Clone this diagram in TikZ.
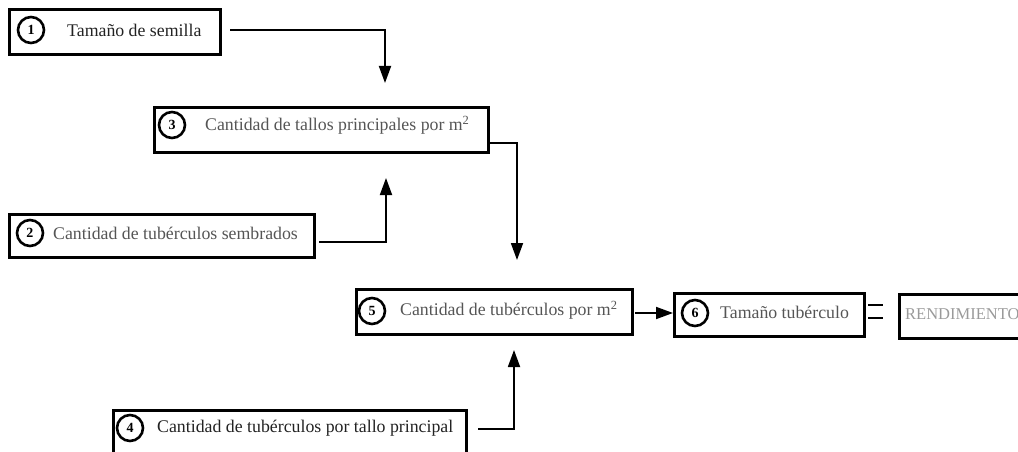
\documentclass[tikz,border=0pt]{standalone}
\usepackage{fontspec}
\setmainfont{Liberation Serif}
\usetikzlibrary{arrows.meta}
\definecolor{txtdark}{HTML}{222222}
\definecolor{txtgray}{HTML}{555555}
\definecolor{txtlight}{HTML}{9A9A9A}
\begin{document}
\begin{tikzpicture}[x=1pt,y=-1pt,
  box/.style={draw, line width=2.8pt, anchor=north west, inner sep=0pt},
  badge/.style={circle, draw, line width=2.6pt, minimum size=26pt, inner sep=0pt,
                font=\fontsize{14}{14}\selectfont\bfseries},
  lbl/.style={anchor=west, inner sep=0pt, font=\fontsize{17.8}{20}\selectfont},
  conn/.style={line width=1.8pt},
  arr/.style={conn, -{Triangle[length=17pt,width=12pt]}}]
\useasboundingbox (0,0) rectangle (1018,452);
\clip (0,0) rectangle (1018,452);

% boxes
\node[box, minimum width=211pt, minimum height=45pt] (b1) at (8,8) {};
\node[box, minimum width=334pt, minimum height=45pt] (b3) at (153,106) {};
\node[box, minimum width=305pt, minimum height=43pt] (b2) at (8,213) {};
\node[box, minimum width=276pt, minimum height=45pt] (b5) at (355,288) {};
\node[box, minimum width=190pt, minimum height=43pt] (b6) at (673,292) {};
\node[box, minimum width=140pt, minimum height=44pt] (b7) at (898,293) {};
\node[box, minimum width=353pt, minimum height=43pt] (b4) at (112,409) {};

% badges
\node[badge] (n1) at (31,30) {1};
\node[badge] (n3) at (172,125) {3};
\node[badge] (n2) at (30,233) {2};
\node[badge] (n5) at (372,311) {5};
\node[badge] (n6) at (695,313) {6};
\node[badge] (n4) at (130,428) {4};

% labels
\node[lbl, text=txtdark] (t1) at (67,30) {Tamaño de semilla};
\node[lbl, text=txtgray] (t3) at (205,125) {Cantidad de tallos principales por m\textsuperscript{2}};
\node[lbl, text=txtgray] (t2) at (53,233) {Cantidad de tubérculos sembrados};
\node[lbl, text=txtgray] (t5) at (400,310) {Cantidad de tubérculos por m\textsuperscript{2}};
\node[lbl, text=txtgray] (t6) at (720,312) {Tamaño tubérculo};
\node[lbl, text=txtdark] (t4) at (157,428) {Cantidad de tubérculos por tallo principal};
\node[anchor=west, inner sep=0pt, font=\fontsize{16.5}{18}\selectfont, text=txtlight] (t7) at (905,314) {RENDIMIENTO};

% equals sign
\draw[line width=2.2pt] (868,305) -- (883,305);
\draw[line width=2.2pt] (868,318) -- (883,318);

% connectors
\coordinate (s1) at (230,30);  \coordinate (e1) at (385,83);
\coordinate (s2) at (319,242); \coordinate (e2) at (386,178);
\coordinate (s3) at (487,143); \coordinate (e3) at (517,260);
\coordinate (s4) at (478,429); \coordinate (e4) at (514,350);
\coordinate (s5) at (635,313);
\draw[arr] (s1) -| (e1);
\draw[arr] (s2) -| (e2);
\draw[arr] (s3) -| (e3);
\draw[arr] (s4) -| (e4);
\draw[arr] (s5) -- (s5 -| b6.west);
\end{tikzpicture}
\end{document}
